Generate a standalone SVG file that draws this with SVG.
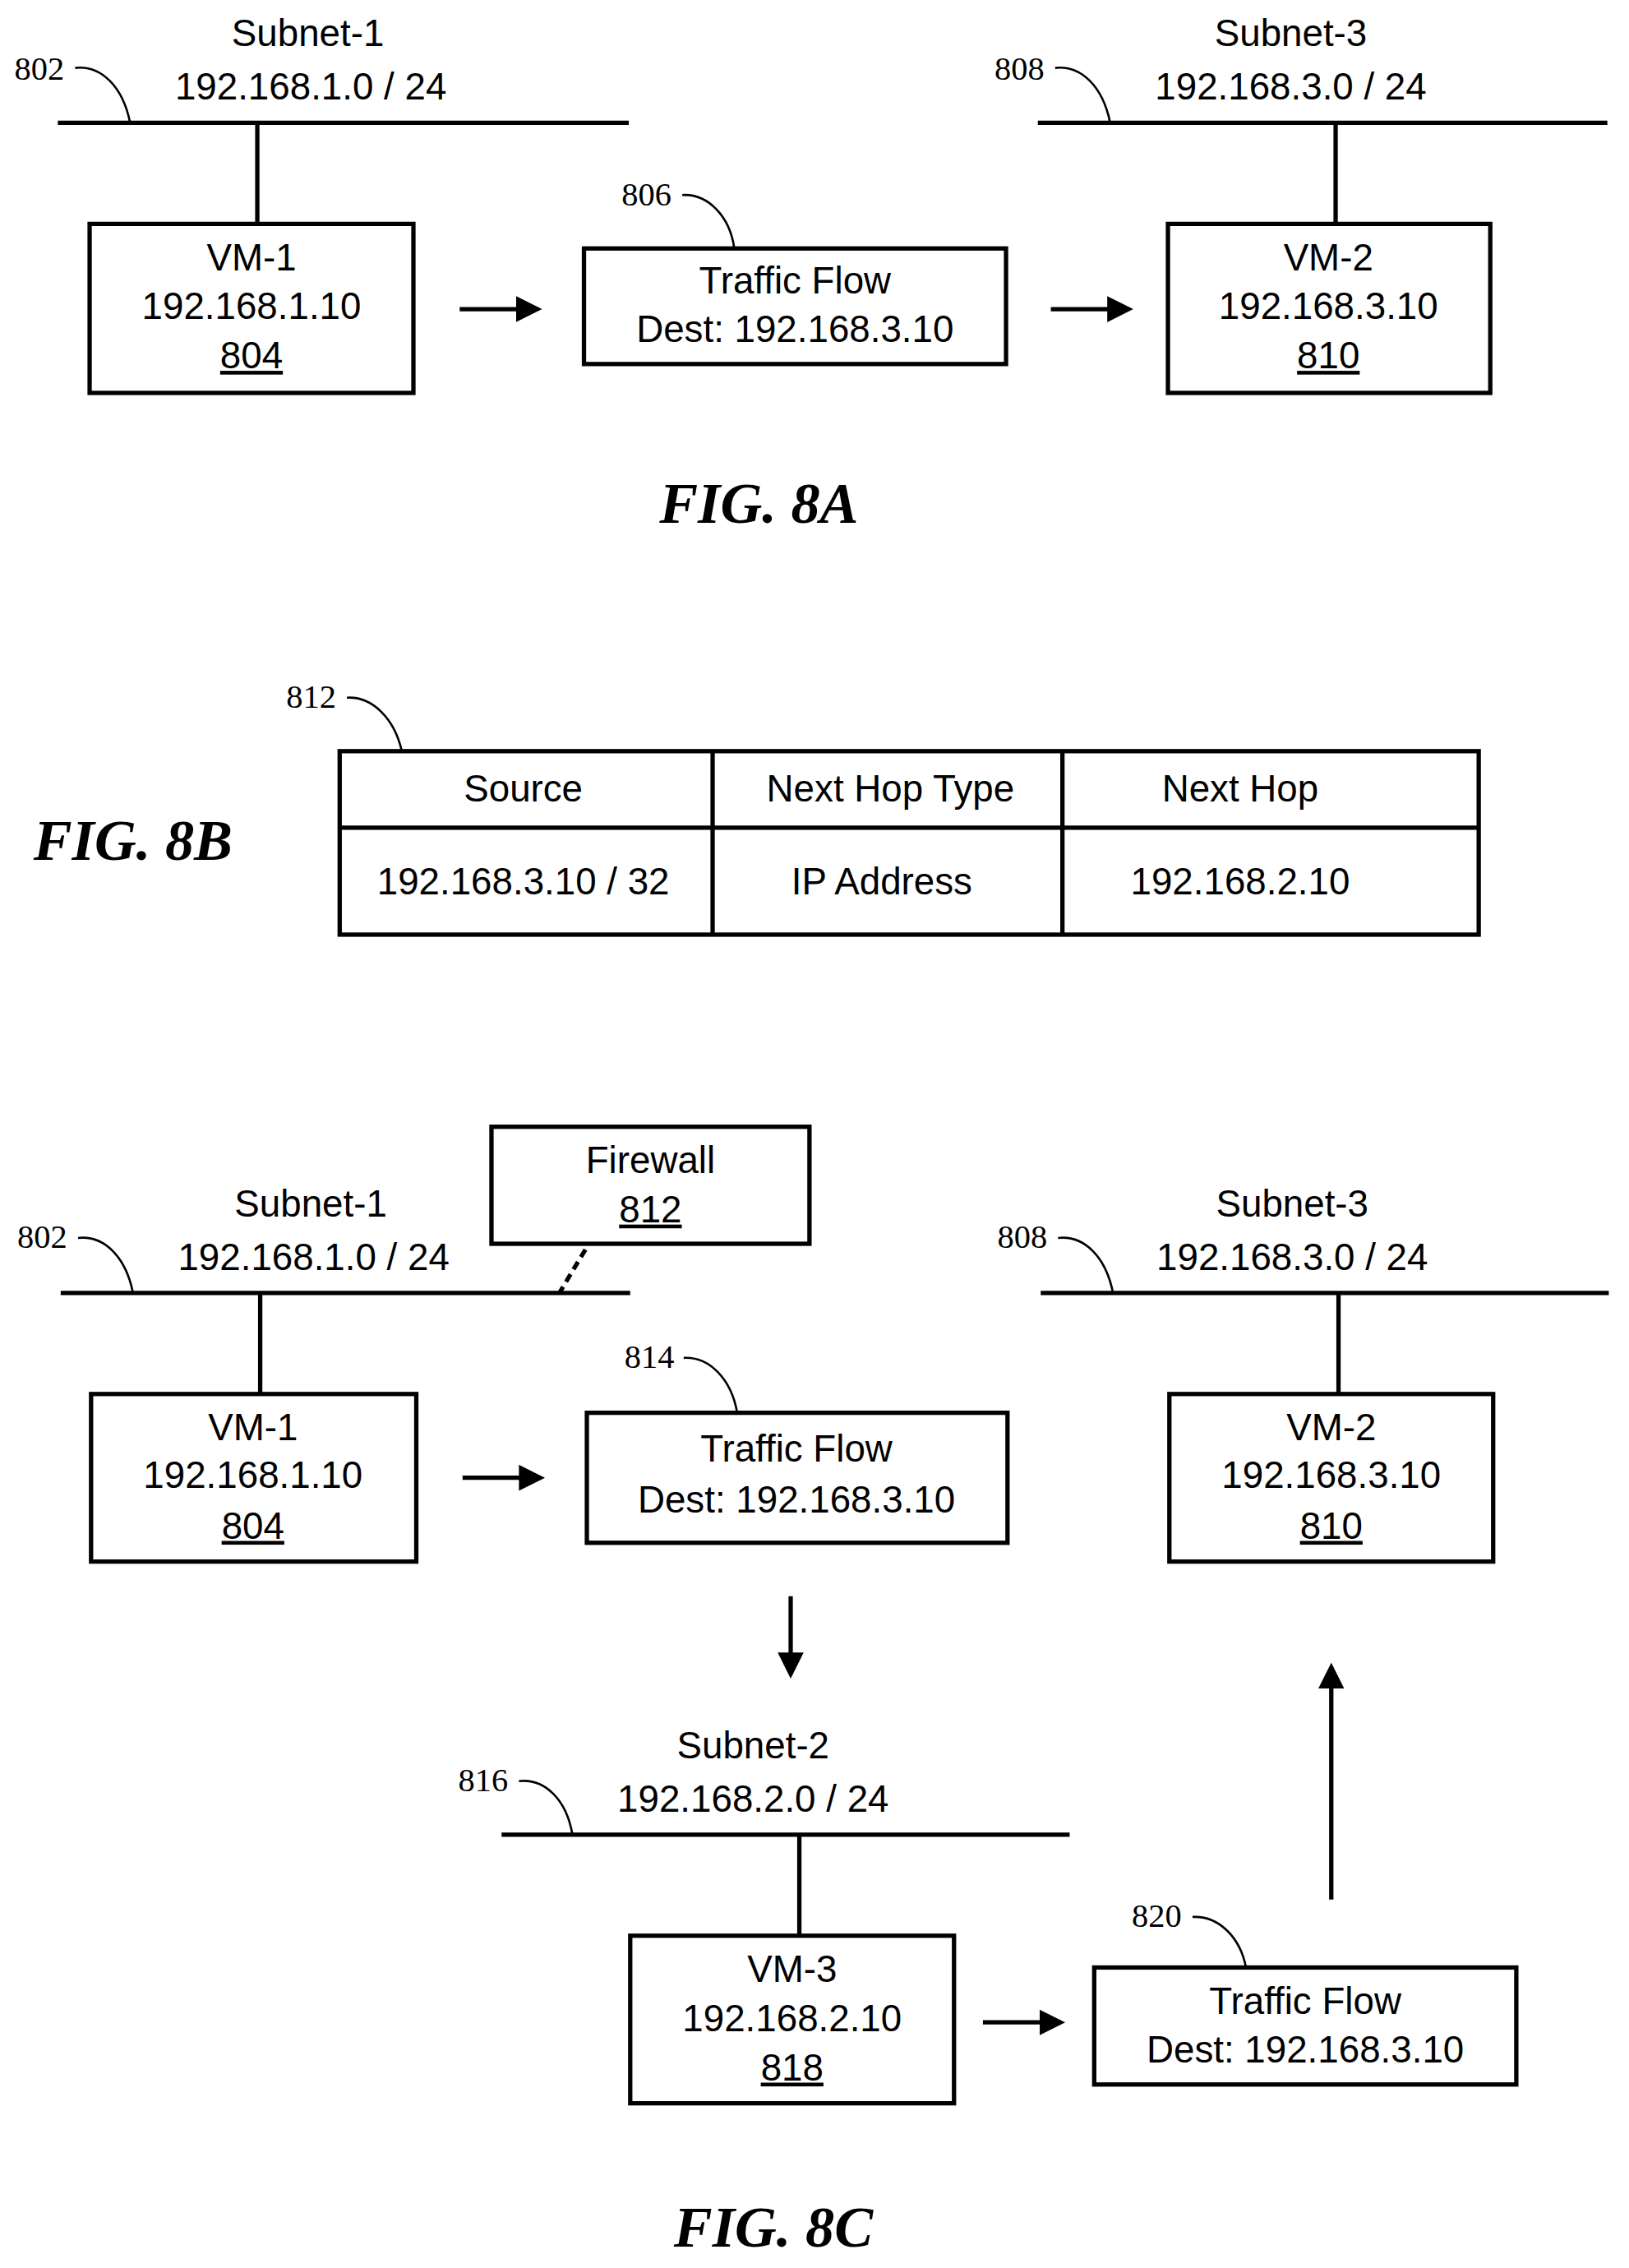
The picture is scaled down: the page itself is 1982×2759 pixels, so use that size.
<svg xmlns="http://www.w3.org/2000/svg" width="1982" height="2759" viewBox="0 0 1982 2759">
<style>
.t{font-family:"Liberation Sans",Arial,sans-serif;font-size:26px;text-anchor:middle;fill:#000}
.r{font-family:"Liberation Serif","Times New Roman",serif;font-size:23px;fill:#000}
.f{font-family:"Liberation Serif","Times New Roman",serif;font-size:40px;font-weight:bold;font-style:italic;text-anchor:middle;fill:#000}
.b{fill:#fff;stroke:#000;stroke-width:3}
.ln{stroke:#000;stroke-width:3;fill:none}
.ld{stroke:#000;stroke-width:1.5;fill:none}
.ar{stroke:#000;stroke-width:3;fill:none;marker-end:url(#ah)}
</style>
<defs><marker id="ah" markerWidth="6" markerHeight="6" refX="5" refY="3" orient="auto" markerUnits="strokeWidth"><path d="M0,0 L6,3 L0,6 z" fill="#000"/></marker></defs>
<rect width="1982" height="2759" fill="#fff"/>
<g transform="scale(1.7587,1.7573)">
<g id="fig8a">
<g id="subnet1a"><text class="t" x="213" y="32">Subnet-1</text><text class="t" x="215" y="69">192.168.1.0 / 24</text><line class="ln" x1="40" y1="85" x2="435" y2="85"/><text class="r" x="10" y="55">802</text><path class="ld" d="M52,47 C70,45 85,60 90,85"/></g>
<g id="vm1a"><rect class="b" x="62" y="155" width="224" height="117"/><text class="t" x="174" y="187">VM-1</text><text class="t" x="174" y="221">192.168.1.10</text><text class="t" x="174" y="255" text-decoration="underline">804</text></g>
<g id="flow806"><rect class="b" x="404" y="172" width="292" height="80"/><text class="t" x="550" y="203">Traffic Flow</text><text class="t" x="550" y="237">Dest: 192.168.3.10</text><text class="r" x="430" y="142">806</text><path class="ld" d="M472,135 C490,134 505,150 508,172"/></g>
<g id="subnet3a"><text class="t" x="893" y="32">Subnet-3</text><text class="t" x="893" y="69">192.168.3.0 / 24</text><line class="ln" x1="718" y1="85" x2="1112" y2="85"/><text class="r" x="688" y="55">808</text><path class="ld" d="M730,47 C748,45 763,60 768,85"/></g>
<g id="vm2a"><rect class="b" x="808" y="155" width="223" height="117"/><text class="t" x="919" y="187">VM-2</text><text class="t" x="919" y="221">192.168.3.10</text><text class="t" x="919" y="255" text-decoration="underline">810</text></g>
<text class="f" x="525" y="362">FIG. 8A</text>
</g>
<g id="fig8b">
<text class="f" x="92" y="595">FIG. 8B</text>
<text class="r" x="198" y="490">812</text><path class="ld" d="M240,483 C258,482 273,498 278,520"/>
<g id="table"><rect class="b" x="235" y="520" width="788" height="127"/><line class="ln" x1="235" y1="573" x2="1023" y2="573"/><line class="ln" x1="493" y1="520" x2="493" y2="647" stroke-width="5"/><line class="ln" x1="735" y1="520" x2="735" y2="647"/>
<text class="t" x="362" y="555">Source</text><text class="t" x="616" y="555">Next Hop Type</text><text class="t" x="858" y="555">Next Hop</text>
<text class="t" x="362" y="619">192.168.3.10 / 32</text><text class="t" x="610" y="619">IP Address</text><text class="t" x="858" y="619">192.168.2.10</text></g>
</g>
<g id="fig8c">
<g id="firewall"><rect class="b" x="340" y="780" width="220" height="81"/><text class="t" x="450" y="812">Firewall</text><text class="t" x="450" y="846" text-decoration="underline">812</text></g>
<g id="subnet1c"><text class="t" x="215" y="842">Subnet-1</text><text class="t" x="217" y="879">192.168.1.0 / 24</text><line class="ln" x1="42" y1="895" x2="436" y2="895"/><text class="r" x="12" y="864">802</text><path class="ld" d="M54,857 C72,855 87,870 92,895"/></g>
<g id="vm1c"><rect class="b" x="63" y="965" width="225" height="116"/><text class="t" x="175" y="997">VM-1</text><text class="t" x="175" y="1030">192.168.1.10</text><text class="t" x="175" y="1065" text-decoration="underline">804</text></g>
<g id="flow814"><rect class="b" x="406" y="978" width="291" height="90"/><text class="t" x="551" y="1012">Traffic Flow</text><text class="t" x="551" y="1047">Dest: 192.168.3.10</text><text class="r" x="432" y="947">814</text><path class="ld" d="M473,940 C491,939 506,955 510,978"/></g>
<g id="subnet3c"><text class="t" x="894" y="842">Subnet-3</text><text class="t" x="894" y="879">192.168.3.0 / 24</text><line class="ln" x1="720" y1="895" x2="1113" y2="895"/><text class="r" x="690" y="864">808</text><path class="ld" d="M732,857 C750,855 765,870 770,895"/></g>
<g id="vm2c"><rect class="b" x="809" y="965" width="224" height="116"/><text class="t" x="921" y="997">VM-2</text><text class="t" x="921" y="1030">192.168.3.10</text><text class="t" x="921" y="1065" text-decoration="underline">810</text></g>
<g id="subnet2"><text class="t" x="521" y="1217">Subnet-2</text><text class="t" x="521" y="1254">192.168.2.0 / 24</text><line class="ln" x1="347" y1="1270" x2="740" y2="1270"/><text class="r" x="317" y="1240">816</text><path class="ld" d="M359,1233 C377,1231 392,1246 396,1270"/></g>
<g id="vm3"><rect class="b" x="436" y="1340" width="224" height="116"/><text class="t" x="548" y="1372">VM-3</text><text class="t" x="548" y="1406">192.168.2.10</text><text class="t" x="548" y="1440" text-decoration="underline">818</text></g>
<g id="flow820"><rect class="b" x="757" y="1362" width="292" height="81"/><text class="t" x="903" y="1394">Traffic Flow</text><text class="t" x="903" y="1428">Dest: 192.168.3.10</text><text class="r" x="783" y="1334">820</text><path class="ld" d="M825,1327 C843,1326 858,1341 862,1362"/></g>
<text class="f" x="535" y="1555">FIG. 8C</text>
</g>
<g id="connectors">
<line class="ln" x1="178" y1="85" x2="178" y2="155"/>
<line class="ln" x1="924" y1="85" x2="924" y2="155"/>
<line class="ar" x1="318" y1="214" x2="372" y2="214"/>
<line class="ar" x1="727" y1="214" x2="781" y2="214"/>
<line class="ln" x1="405" y1="865" x2="387" y2="895" stroke-dasharray="6,4"/>
<line class="ln" x1="180" y1="895" x2="180" y2="965"/>
<line class="ln" x1="926" y1="895" x2="926" y2="965"/>
<line class="ln" x1="553" y1="1270" x2="553" y2="1340"/>
<line class="ar" x1="320" y1="1023" x2="374" y2="1023"/>
<line class="ar" x1="547" y1="1105" x2="547" y2="1159"/>
<line class="ar" x1="680" y1="1400" x2="734" y2="1400"/>
<line class="ar" x1="921" y1="1315" x2="921" y2="1154"/>
</g>
</g>
</svg>
